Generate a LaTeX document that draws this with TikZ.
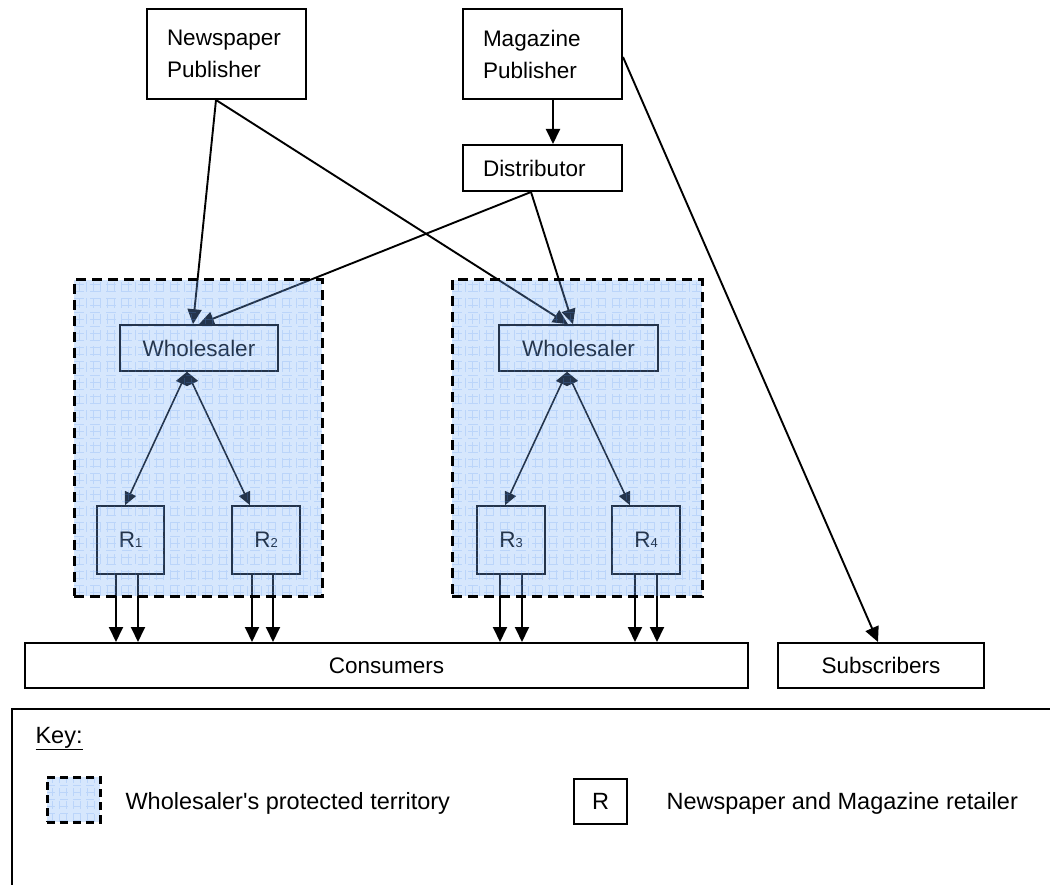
\documentclass[tikz,border=0pt]{standalone}
\usepackage{fontspec}
\setmainfont{Liberation Sans}
\usetikzlibrary{arrows.meta}
\tikzset{
  box/.style={draw,line width=2pt,inner sep=0pt,font=\fontsize{22.5}{32}\selectfont},
  pub/.style={box,minimum height=90pt,text width=119pt,inner xsep=20pt,align=left},
  inbox/.style={draw,line width=1.6pt,inner sep=0pt,font=\fontsize{22.5}{26}\selectfont},
  keytext/.style={anchor=base west,font=\fontsize{23.5}{28}\selectfont},
  gridline/.style={draw={rgb,255:red,90;green,150;blue,240},draw opacity=0.22,line width=0.8pt},
  terr/.style={draw,dash pattern=on 10pt off 6pt,line width=3pt,
    fill={rgb,255:red,120;green,175;blue,250},fill opacity=0.3,
    path picture={\draw[gridline] (path picture bounding box.south west) grid[step=7pt] (path picture bounding box.north east);}},
  arr/.style={line width=1.9pt,-{Triangle[length=15pt,width=14pt]}},
  dbl/.style={line width=1.6pt,{Triangle[length=13pt,width=12pt]}-{Triangle[length=13pt,width=12pt]}}
}
\newcommand{\sub}[1]{{\fontsize{13}{13}\selectfont #1}}
\begin{document}
\begin{tikzpicture}[x=1pt,y=-1pt]
\clip (0,0) rectangle (1050,885);
\node[pub] (np) at (226.5,54) {Newspaper\\Publisher};
\node[pub] (mp) at (542.5,54) {Magazine\\Publisher};
\node[box,minimum height=46pt,text width=119pt,inner xsep=20pt,align=left] (dist) at (542.5,168) {Distributor};
\node[inbox,minimum width=158pt,minimum height=46pt] (whA) at (199,348) {Wholesaler};
\node[inbox,minimum width=159pt,minimum height=46pt] (whB) at (578.5,348) {Wholesaler};
\node[inbox,minimum width=67pt,minimum height=68pt] (rA) at (130.5,540) {R\sub{1}};
\node[inbox,minimum width=68pt,minimum height=68pt] (rB) at (266,540) {R\sub{2}};
\node[inbox,minimum width=68pt,minimum height=68pt] (rC) at (511,540) {R\sub{3}};
\node[inbox,minimum width=68pt,minimum height=68pt] (rD) at (646,540) {R\sub{4}};
\node[box,minimum width=723pt,minimum height=45pt] (cons) at (386.5,665.5) {Consumers};
\node[box,minimum width=206pt,minimum height=45pt] (subs) at (881,665.5) {Subscribers};

\draw[arr] ([xshift=-10.5pt]np.south) -- ([xshift=-6pt]whA.north);
\draw[arr] ([xshift=-10.5pt]np.south) -- ([xshift=-10.5pt]whB.north);
\draw[arr] ([xshift=-11.5pt]dist.south) -- (whA.north);
\draw[arr] ([xshift=-11.5pt]dist.south) -- ([xshift=-5.5pt]whB.north);
\draw[arr] ([xshift=10.5pt]mp.south) -- ([xshift=10.5pt]dist.north);
\draw[arr] ([yshift=-3pt]mp.east) -- ([xshift=-3pt]subs.north);
\draw[dbl] ([xshift=-12pt]whA.south) -- ([xshift=-5.5pt]rA.north);
\draw[dbl] ([xshift=-12pt]whA.south) -- ([xshift=-16pt]rB.north);
\draw[dbl] ([xshift=-11.5pt]whB.south) -- ([xshift=-6pt]rC.north);
\draw[dbl] ([xshift=-11.5pt]whB.south) -- ([xshift=-16pt]rD.north);
\foreach \rn/\a/\b in {rA/-14.5/7.5,rB/-14/7,rC/-11/11,rD/-11/11}{
  \coordinate (p) at ([xshift=\a pt]\rn.south); \coordinate (q) at ([xshift=\b pt]\rn.south);
  \draw[arr] (p) -- (p |- cons.north); \draw[arr] (q) -- (q |- cons.north);
}

\node[terr,minimum width=248pt,minimum height=316pt] (terrA) at (198,438) {};
\node[terr,minimum width=250pt,minimum height=316pt] (terrB) at (577,438) {};

\draw[line width=2pt] (12,709) rectangle (1070,900);
\node[keytext] (key) at (32,743) {\underline{Key:}};
\node[terr,dash pattern=on 8pt off 5pt,minimum width=53pt,minimum height=45pt] (keyterr) at (73.5,799.5) {};
\node[keytext] (keyterrtxt) at (122,809) {Wholesaler\textquotesingle s protected territory};
\node[draw,line width=2pt,minimum width=53pt,minimum height=45pt,font=\fontsize{23.5}{28}\selectfont] (keyr) at (600.5,801.5) {R};
\node[keytext] (keyrtxt) at (663,809) {Newspaper and Magazine retailer};
\end{tikzpicture}
\end{document}
